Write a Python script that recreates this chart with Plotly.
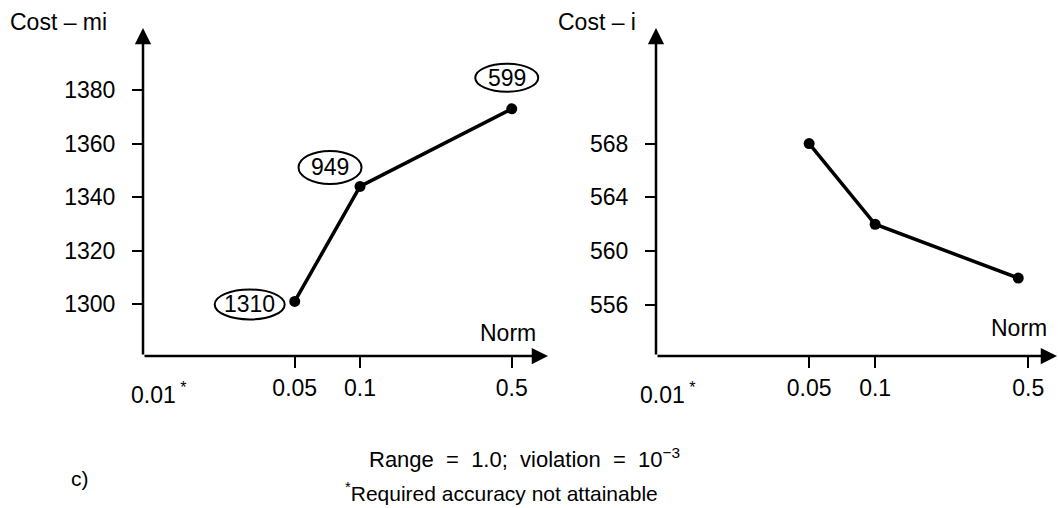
import math
import plotly.graph_objects as go

# ---- data ----
norm_left = [0.05, 0.1, 0.5]
cost_mi = [1301, 1344, 1373]
iterations = ["1310", "949", "599"]

norm_right = [0.05, 0.1, 0.45]
cost_i = [568, 562, 558]

x_tickvals = [0.05, 0.1, 0.5]
x_ticktext = ["0.05", "0.1", "0.5"]
y_left_ticks = [1300, 1320, 1340, 1360, 1380]
y_right_ticks = [556, 560, 564, 568]

W, H = 1058, 508
FONT = "Liberation Sans, Arial, sans-serif"
FS = 23

# ranges
xl_range = [-2, -0.134]
xr_range = [-2, -0.17]
yl_range = [1280.6, 1403.2]
yr_range = [552.2, 576.6]

fig = go.Figure()
fig.add_trace(go.Scatter(x=norm_left, y=cost_mi, mode="lines+markers",
                         line=dict(color="black", width=3.5),
                         marker=dict(color="black", size=11),
                         xaxis="x", yaxis="y", showlegend=False))
fig.add_trace(go.Scatter(x=norm_right, y=cost_i, mode="lines+markers",
                         line=dict(color="black", width=3.5),
                         marker=dict(color="black", size=11),
                         xaxis="x2", yaxis="y2", showlegend=False))

ydom = [1 - 356 / H, 1 - 28 / H]
common_x = dict(type="log", tickvals=x_tickvals, ticktext=x_ticktext,
                ticks="outside", ticklen=11, tickwidth=2, tickcolor="black",
                showgrid=False, zeroline=False, showline=False,
                tickfont=dict(family=FONT, size=FS, color="black"),
                fixedrange=True)
common_y = dict(ticks="outside", ticklen=10, tickwidth=2, tickcolor="black",
                showgrid=False, zeroline=False, showline=False,
                ticklabelstandoff=12,
                tickfont=dict(family=FONT, size=FS, color="black"),
                domain=ydom, fixedrange=True)

fig.update_layout(
    width=W, height=H,
    margin=dict(l=0, r=0, t=0, b=0),
    paper_bgcolor="white", plot_bgcolor="white",
    xaxis=dict(common_x, domain=[143 / W, 548 / W], range=xl_range, anchor="y"),
    yaxis=dict(common_y, range=yl_range, tickvals=y_left_ticks, anchor="x"),
    xaxis2=dict(common_x, domain=[656 / W, 1057 / W], range=xr_range, anchor="y2"),
    yaxis2=dict(common_y, range=yr_range, tickvals=y_right_ticks, anchor="x2"),
)

ann = []
shapes = []

# axis lines with arrows
for xr, yr, xrng, yrng in [("x", "y", xl_range, yl_range), ("x2", "y2", xr_range, yr_range)]:
    ann.append(dict(x=xrng[0], y=yrng[1], ax=xrng[0], ay=yrng[0], xref=xr, yref=yr,
                    axref=xr, ayref=yr, showarrow=True, arrowhead=2, arrowsize=1.3,
                    arrowwidth=2.5, arrowcolor="black", text=""))
    ann.append(dict(x=xrng[1], y=yrng[0], ax=xrng[0], ay=yrng[0], xref=xr, yref=yr,
                    axref=xr, ayref=yr, showarrow=True, arrowhead=2, arrowsize=1.3,
                    arrowwidth=2.5, arrowcolor="black", text=""))
    ann.append(dict(x=xrng[0], y=yrng[0], xref=xr, yref=yr, showarrow=False,
                    text="0.01<sup> *</sup>", xanchor="left", yanchor="top",
                    xshift=-14 if xr == "x" else -18, yshift=-20,
                    font=dict(family=FONT, size=FS, color="black")))

# axis titles
ann.append(dict(x=8 / W, y=1 - 22 / H, xref="paper", yref="paper", text="Cost \u2013 mi",
                showarrow=False, xanchor="left", yanchor="middle",
                font=dict(family=FONT, size=FS, color="black")))
ann.append(dict(x=556 / W, y=1 - 22 / H, xref="paper", yref="paper", text="Cost \u2013 i",
                showarrow=False, xanchor="left", yanchor="middle",
                font=dict(family=FONT, size=FS, color="black")))
ann.append(dict(x=538 / W, y=1 - 333 / H, xref="paper", yref="paper", text="Norm",
                showarrow=False, xanchor="right", yanchor="middle",
                font=dict(family=FONT, size=FS, color="black")))
ann.append(dict(x=1049 / W, y=1 - 328 / H, xref="paper", yref="paper", text="Norm",
                showarrow=False, xanchor="right", yanchor="middle",
                font=dict(family=FONT, size=FS, color="black")))

# iteration labels in ellipses (ellipse anchored to the data point via the x-axis domain)
offsets = [(-45, -3, 70, 30), (-30, 19, 63, 33), (-5, 31, 63, 28)]
for xv, yv, lab, (dx, dy, ew, eh) in zip(norm_left, cost_mi, iterations, offsets):
    lx = math.log10(xv)
    frac = (lx - xl_range[0]) / (xl_range[1] - xl_range[0])
    ann.append(dict(x=lx, y=yv, xref="x", yref="y", text=lab, showarrow=False,
                    xshift=dx, yshift=dy, xanchor="center", yanchor="middle",
                    font=dict(family=FONT, size=FS, color="black")))
    shapes.append(dict(type="circle", xref="x domain", yref="y", xsizemode="pixel",
                       ysizemode="pixel", xanchor=frac, yanchor=yv,
                       x0=dx - ew / 2, x1=dx + ew / 2, y0=dy - eh / 2, y1=dy + eh / 2,
                       line=dict(color="black", width=2)))

# footer texts
NB = "\u00a0"
ann.append(dict(x=524 / W, y=1 - 458 / H, xref="paper", yref="paper",
                text=f"Range{NB}{NB}={NB}{NB}1.0;{NB}{NB}violation{NB}{NB}={NB}{NB}10<sup>\u22123</sup>",
                showarrow=False, xanchor="center", yanchor="middle",
                font=dict(family=FONT, size=22, color="black")))
ann.append(dict(x=501 / W, y=1 - 492 / H, xref="paper", yref="paper",
                text="<sup>*</sup>Required accuracy not attainable", showarrow=False,
                xanchor="center", yanchor="middle",
                font=dict(family=FONT, size=21, color="black")))
ann.append(dict(x=80 / W, y=1 - 478 / H, xref="paper", yref="paper", text="c)",
                showarrow=False, xanchor="center", yanchor="middle",
                font=dict(family=FONT, size=21, color="black")))

fig.update_layout(annotations=ann, shapes=shapes)
fig.write_html("out.html")
